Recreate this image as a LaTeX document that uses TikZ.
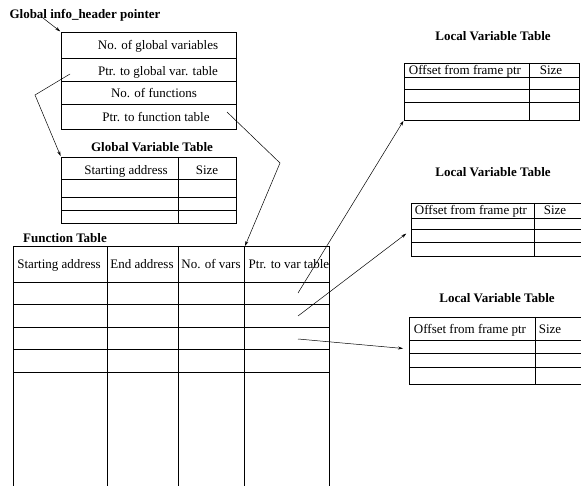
\documentclass[tikz,border=0pt]{standalone}
\usepackage{fontspec}
\setmainfont{Liberation Serif}
\usetikzlibrary{arrows.meta}
\begin{document}
\begin{tikzpicture}[x=1pt,y=-1pt,line width=0.7pt,
  cell/.style={font=\fontsize{13}{14}\selectfont,inner sep=0pt,anchor=base,yshift=-4.5pt},
  ttl/.style={font=\bfseries\fontsize{13}{14}\selectfont,inner sep=0pt,anchor=base,yshift=-4.5pt},
  ptr/.style={line width=0.5pt,-{Stealth[length=5pt,width=3pt]}}]
\path[use as bounding box] (0,0) rectangle (581,486);
\clip (0,0) rectangle (581,486);

% ---------- header table ----------
\node[ttl] (gtitle) at (85,14) {Global info\_header pointer};
\draw (61,32) rectangle (236,129);
\foreach \y in {58,81,104} \draw (61,\y) -- (236,\y);
\coordinate (hdrnw) at (61,32);
\node[cell] (h1) at (158,45) {No. of global variables};
\node[cell] (h2) at (158,71) {Ptr. to global var. table};
\node[cell] (h3) at (154,93) {No. of functions};
\node[cell] (h4) at (156,117) {Ptr. to function table};
\coordinate (gstart) at (43,18);
\draw[ptr,shorten >=1pt] (gstart) -- (hdrnw);

% ---------- global variable table ----------
\node[ttl] (gvtitle) at (152,147) {Global Variable Table};
\draw (61,157) rectangle (236,223);
\foreach \y in {179,197,210} \draw (61,\y) -- (236,\y);
\draw (178,157) -- (178,223);
\coordinate (gvnw) at (61,157);
\node[cell] (gv1) at (126,170) {Starting address};
\node[cell] (gv2) at (207,170) {Size};

% ---------- function table ----------
\node[ttl] (ftitle) at (65,238) {Function Table};
\draw (13,490) -- (13,246) -- (329,246) -- (329,490);
\foreach \y in {282,304,327,349,372} \draw (13,\y) -- (329,\y);
\foreach \x in {107,178,244} \draw (\x,246) -- (\x,490);
\coordinate (ftptr) at (245,246);
\node[cell] (f1) at (59,264) {Starting address};
\node[cell] (f2) at (142,264) {End address};
\node[cell] (f3) at (211,264) {No. of vars};
\node[cell] (f4) at (289,264) {Ptr. to var table};
\coordinate (r1) at (298,293);
\coordinate (r2) at (298,316);
\coordinate (r3) at (298,339);

% ---------- local variable tables ----------
\node[ttl] (l1title) at (493,36) {Local Variable Table};
\draw (404,63) rectangle (579,120);
\foreach \y in {77,89,102} \draw (404,\y) -- (579,\y);
\draw (529,63) -- (529,120);
\node[cell] (l1a) at (465,70) {Offset from frame ptr};
\node[cell] (l1b) at (551,70) {Size};
\coordinate (l1sw) at (404,120);

\node[ttl] (l2title) at (493,172) {Local Variable Table};
\draw (590,203) -- (411,203) -- (411,256) -- (590,256);
\foreach \y in {218,229,242} \draw (411,\y) -- (590,\y);
\draw (534,203) -- (534,256);
\node[cell] (l2a) at (471,210) {Offset from frame ptr};
\node[cell] (l2b) at (555,210) {Size};
\coordinate (l2w) at (411,230);

\node[ttl] (l3title) at (497,298) {Local Variable Table};
\draw (590,317) -- (409,317) -- (409,384) -- (590,384);
\foreach \y in {340,353,367} \draw (409,\y) -- (590,\y);
\draw (535,317) -- (535,384);
\node[cell] (l3a) at (470,329) {Offset from frame ptr};
\node[cell] (l3b) at (550,329) {Size};
\coordinate (l3w) at (409,349);

% ---------- pointers ----------
\coordinate (gvbend) at (35,95);
\coordinate (gvstart) at (70,74);
\draw[ptr,shorten >=1pt] (gvstart) -- (gvbend) -- (gvnw);
\coordinate (ftstart) at (227,112);
\coordinate (ftbend) at (280,163);
\draw[ptr] (ftstart) -- (ftbend) -- (ftptr);
\draw[ptr,shorten >=1pt] (r1) -- (l1sw);
\draw[ptr,shorten >=6pt] (r2) -- (l2w);
\draw[ptr,shorten >=6pt] (r3) -- (l3w);
\end{tikzpicture}
\end{document}
